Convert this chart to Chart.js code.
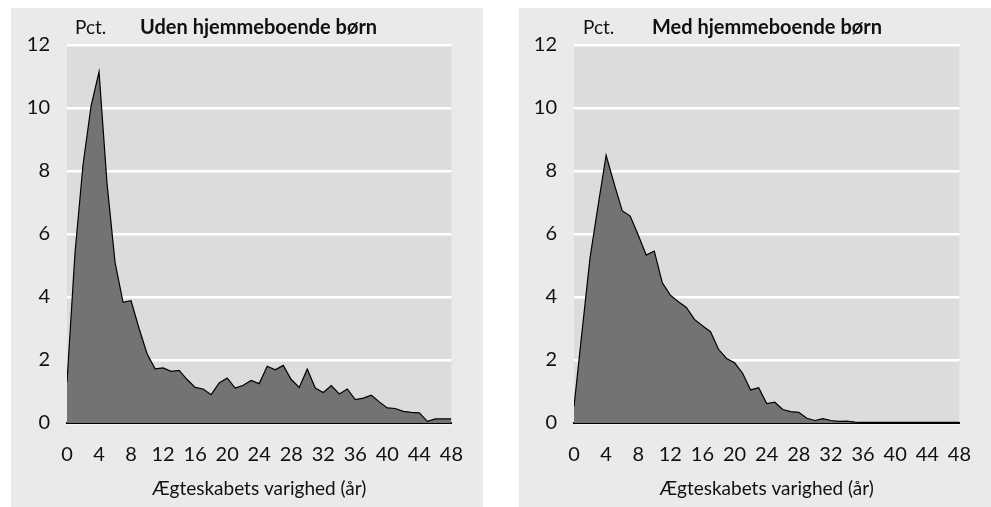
<!DOCTYPE html>
<html lang="da">
<head>
  <meta charset="UTF-8">
  <title>Ægteskabets varighed</title>
  <script src="https://cdn.jsdelivr.net/npm/chart.js"></script>
  <style>
    html, body { margin: 0; padding: 0; background: #ffffff; }
    body { width: 991px; height: 507px; position: relative; overflow: hidden; }
    .panel { position: absolute; top: 8px; height: 499px; width: 472px; background: #eaeaea; }
    #panelLeft { left: 11px; }
    #panelRight { left: 519px; }
  </style>
</head>
<body>
  <div class="panel" id="panelLeft"><canvas id="chartLeft"></canvas></div>
  <div class="panel" id="panelRight"><canvas id="chartRight"></canvas></div>

  <script>
    // Years of marriage (x axis)
    const years = [0, 1, 2, 3, 4, 5, 6, 7, 8, 9, 10, 11, 12, 13, 14, 15, 16, 17, 18, 19, 20,
      21, 22, 23, 24, 25, 26, 27, 28, 29, 30, 31, 32, 33, 34, 35, 36, 37, 38, 39, 40,
      41, 42, 43, 44, 45, 46, 47, 48];

    // Pct. without children living at home
    const udenBoern = [1.3, 5.4, 8.2, 10.05, 11.15, 7.6, 5.1, 3.83, 3.88, 3.0, 2.2,
      1.72, 1.75, 1.64, 1.67, 1.38, 1.13, 1.08, 0.9, 1.27, 1.43,
      1.11, 1.2, 1.35, 1.25, 1.8, 1.69, 1.83, 1.38, 1.13, 1.71,
      1.11, 0.97, 1.19, 0.92, 1.08, 0.74, 0.79, 0.88, 0.67, 0.48,
      0.46, 0.37, 0.34, 0.32, 0.05, 0.13, 0.13, 0.13];

    // Pct. with children living at home
    const medBoern = [0.52, 2.9, 5.25, 6.9, 8.5, 7.6, 6.74, 6.57, 5.97, 5.33, 5.46,
      4.45, 4.06, 3.85, 3.67, 3.29, 3.09, 2.9, 2.34, 2.05, 1.91,
      1.58, 1.05, 1.12, 0.62, 0.66, 0.43, 0.36, 0.34, 0.15, 0.08,
      0.14, 0.08, 0.05, 0.06, 0.03, 0.02, 0.02, 0.02, 0.02, 0.02,
      0.02, 0.02, 0.02, 0.02, 0.02, 0.02, 0.02, 0.02];

    const xTicks = [0, 4, 8, 12, 16, 20, 24, 28, 32, 36, 40, 44, 48];
    const yTicks = [0, 2, 4, 6, 8, 10, 12];

    const unitLabel = 'Pct.';
    const xTitle = 'Ægteskabets varighed (år)';

    const FONT = 'Lato';
    const TEXT = '#111111';

    // plot background + header texts
    const panelDecor = {
      id: 'panelDecor',
      beforeDraw(chart) {
        const { ctx, chartArea } = chart;
        ctx.save();
        ctx.fillStyle = '#dcdcdc';
        ctx.fillRect(chartArea.left, chartArea.top, chartArea.right - chartArea.left, chartArea.bottom - chartArea.top);
        ctx.restore();
      },
      afterDraw(chart, args, opts) {
        const ctx = chart.ctx;
        ctx.save();
        ctx.fillStyle = TEXT;
        ctx.textBaseline = 'middle';
        ctx.font = '19px ' + FONT;
        ctx.fillText(unitLabel, opts.pctX, 20);
        ctx.font = 'bold 20px ' + FONT;
        ctx.fillText(opts.title, opts.titleX, 20);
        ctx.restore();
      }
    };

    function makeChart(id, values, title, yWidth, rightPad, pctX, titleX) {
      const points = years.map((yr, i) => ({ x: yr, y: values[i] }));
      return new Chart(document.getElementById(id), {
        type: 'line',
        data: {
          datasets: [{
            data: points,
            borderColor: '#000000',
            borderWidth: 1.2,
            backgroundColor: '#737373',
            fill: 'origin',
            pointRadius: 0,
            tension: 0
          }]
        },
        options: {
          responsive: true,
          maintainAspectRatio: false,
          animation: false,
          layout: { padding: { top: 37, right: rightPad, left: 0, bottom: 0 } },
          plugins: {
            legend: { display: false },
            tooltip: { enabled: false },
            panelDecor: { title: title, pctX: pctX, titleX: titleX }
          },
          scales: {
            x: {
              type: 'linear',
              min: 0,
              max: 48,
              afterBuildTicks: s => { s.ticks = xTicks.map(v => ({ value: v })); },
              afterFit: s => { s.height = 84; },
              grid: { display: false, drawTicks: false },
              border: { display: true, color: '#000000', width: 2 },
              ticks: { padding: 20, color: TEXT, font: { family: FONT, size: 20 }, maxRotation: 0 },
              title: { display: true, text: xTitle, color: TEXT, font: { family: FONT, size: 19 }, padding: { bottom: 7 } }
            },
            y: {
              min: 0,
              max: 12,
              afterBuildTicks: s => { s.ticks = yTicks.map(v => ({ value: v })); },
              afterFit: s => { s.width = yWidth; },
              grid: { color: '#ffffff', lineWidth: 2.5, drawTicks: false },
              border: { display: false },
              ticks: { padding: 17, color: TEXT, font: { family: FONT, size: 20 } }
            }
          }
        },
        plugins: [panelDecor]
      });
    }

    makeChart('chartLeft', udenBoern, 'Uden hjemmeboende børn', 56, 30, 64, 129);
    makeChart('chartRight', medBoern, 'Med hjemmeboende børn', 55, 31, 64, 133);
  </script>
</body>
</html>
